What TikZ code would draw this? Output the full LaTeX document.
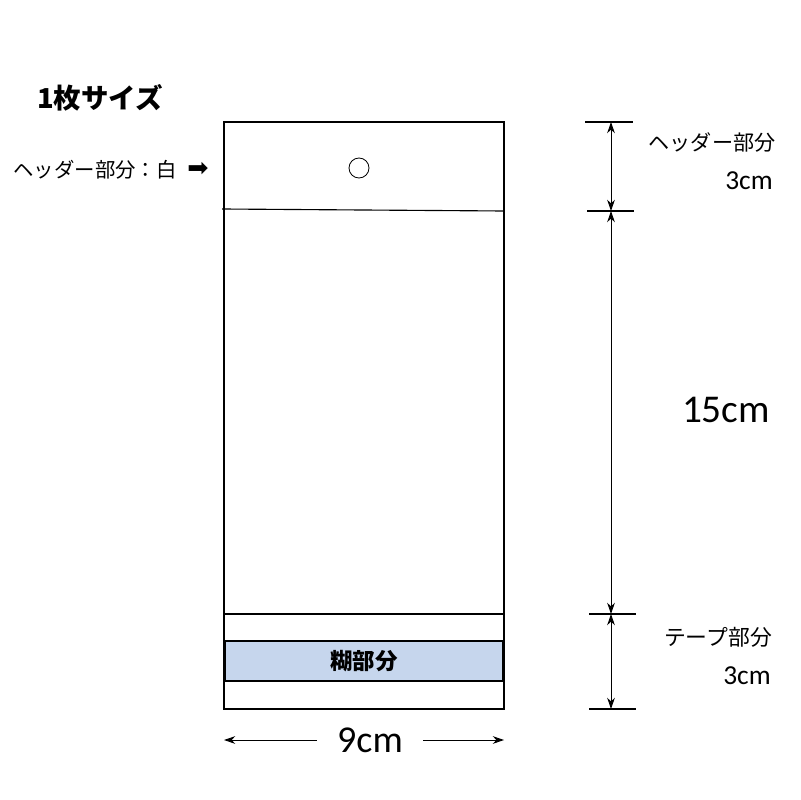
\documentclass[tikz,border=0pt]{standalone}
\usepackage{fontspec}
\usetikzlibrary{arrows.meta}
\setmainfont{Carlito}
\newfontfamily\jp{Noto Sans CJK JP}
\newfontfamily\dejavu{DejaVu Sans}
\definecolor{tapeblue}{RGB}{198,214,237}
\begin{document}
\begin{tikzpicture}[>={Stealth[length=8pt,width=5.5pt]}, x=0.025cm, y=-0.025cm]
        \useasboundingbox (0,0) rectangle (800,800);
        % bag
        \draw[line width=0.8pt] (224,122) rectangle (504,709);
        \draw[line width=0.8pt] (222,209) -- (504,211);
        \draw[line width=0.8pt] (224,614) -- (504,614);
        \draw[line width=0.8pt, fill=tapeblue] (225,641) rectangle (503,681);
        \node[circle, draw, line width=0.6pt, minimum size=0.5cm, inner sep=0pt] (hole) at (359,168) {};
        \node[font=\jp\bfseries\fontsize{16}{18}\selectfont] (glue) at (364,661) {糊部分};
        %
        \node[font=\jp\bfseries\fontsize{19.5}{22}\selectfont] (title) at (100,98) {1枚サイズ};
        \node[font=\jp\fontsize{14.5}{17}\selectfont] (hdrlabel) at (95,170) {ヘッダー部分：白};
        \node[font=\dejavu\fontsize{18}{20}\selectfont] (pointer) at (198,169) {➡};
        %
        % width
        \coordinate (wl) at (224,740);
        \coordinate (wr) at (504,740);
        \node[font=\fontsize{27}{32}\selectfont, inner xsep=0.5cm] (width) at (370,740) {9cm};
        \draw[->, line width=0.7pt] (width.west) -- (wl);
        \draw[->, line width=0.7pt] (width.east) -- (wr);
        %
        % heights
        \coordinate (d0) at (611,122);
        \coordinate (d1) at (611,211);
        \coordinate (d2) at (611,614);
        \coordinate (d3) at (611,709);
        \draw[line width=0.8pt] (585,122) -- (633,122);
        \draw[line width=0.8pt] (587,211) -- (634,211);
        \draw[line width=0.8pt] (589,614) -- (636,614);
        \draw[line width=0.8pt] (589,709) -- (636,709);
        \draw[<->, line width=0.7pt] (d0) -- (d1);
        \draw[<->, line width=0.7pt] (d1) -- (d2);
        \draw[<->, line width=0.7pt] (d2) -- (d3);
        %
        \node[font=\jp\fontsize{15}{17}\selectfont] (hdrname) at (712,142) {ヘッダー部分};
        \node[font=\fontsize{19.5}{22}\selectfont] (hdrsize) at (749,181) {3cm};
        \node[font=\fontsize{28}{32}\selectfont] (midsize) at (726,410) {15cm};
        \node[font=\jp\fontsize{15.5}{17}\selectfont] (tapename) at (718,637) {テープ部分};
        \node[font=\fontsize{19.5}{22}\selectfont] (tapesize) at (747,676) {3cm};
\end{tikzpicture}
\end{document}
